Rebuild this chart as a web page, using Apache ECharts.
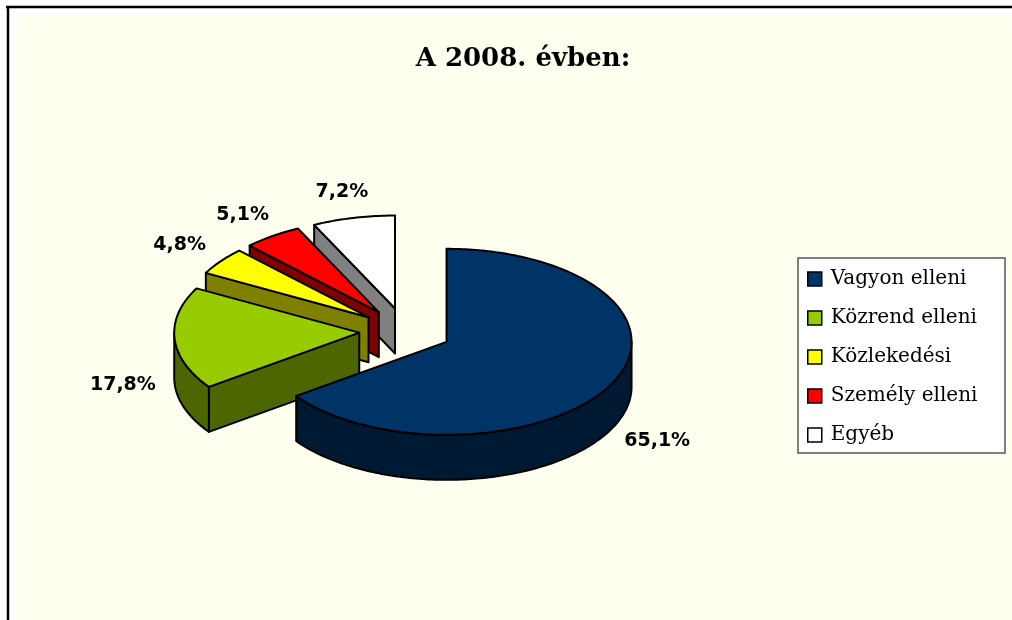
<!DOCTYPE html>
<html><head><meta charset="utf-8">
<script src="https://cdn.jsdelivr.net/npm/echarts@6/dist/echarts.min.js"></script>
<style>html,body{margin:0;padding:0;background:#fff}#c{width:1012px;height:620px}</style>
</head><body><div id="c"></div>
<script>
// ---- data ----
const titleText = 'A 2008. évben:';
const categories = ['Vagyon elleni', 'Közrend elleni', 'Közlekedési', 'Személy elleni', 'Egyéb'];
const values = [65.1, 17.8, 4.8, 5.1, 7.2];
const topColors = ['#003366', '#99CC00', '#FFFF00', '#FF0000', '#FFFFFF'];
const sideColors = ['#001933', '#4C6600', '#808000', '#800000', '#808080'];

// ---- geometry of the pseudo-3D pie ----
const CX = 405.4, CY = 331.2, RX = 185, RY = 93, DEPTH = 45, EXPLODE = 0.25, LABEL_R = 1.28;
const total = values.reduce((s, v) => s + v, 0);
const startAngles = [];
{ let acc = 0; values.forEach(v => { startAngles.push(acc / total * 2 * Math.PI); acc += v; }); }
const mids = values.map((v, i) => startAngles[i] + v / total * Math.PI);
const order = mids.map((m, i) => i).sort((p, q) => (-Math.cos(mids[p])) - (-Math.cos(mids[q])));
const rank = []; order.forEach((idx, r) => { rank[idx] = r; });
const fmt = v => v.toFixed(1).replace('.', ',') + '%';

function renderSlice(params, api) {
  const i = params.seriesIndex;
  const val = api.value(0);
  const a = startAngles[i], b = a + val / total * 2 * Math.PI, m = (a + b) / 2;
  const ox = CX + EXPLODE * RX * Math.sin(m), oy = CY - EXPLODE * RY * Math.cos(m);
  const rim = (t, dz) => [ox + RX * Math.sin(t), oy - RY * Math.cos(t) + (dz || 0)];
  const arc = (t0, t1, dz) => {
    const n = Math.max(2, Math.ceil((t1 - t0) / (Math.PI / 180)));
    const pts = [];
    for (let k = 0; k <= n; k++) pts.push(rim(t0 + (t1 - t0) * k / n, dz));
    return pts;
  };
  const st = c => ({ fill: c, stroke: '#000', lineWidth: 2, lineJoin: 'round' });
  const zb = rank[i] * 10 + 10;
  const children = [];
  if (Math.sin(a) < -1e-6) children.push({ type: 'polygon', z2: zb + 1,
    shape: { points: [[ox, oy], rim(a), rim(a, DEPTH), [ox, oy + DEPTH]] }, style: st(sideColors[i]) });
  if (Math.sin(b) > 1e-6) children.push({ type: 'polygon', z2: zb + 1,
    shape: { points: [[ox, oy], rim(b), rim(b, DEPTH), [ox, oy + DEPTH]] }, style: st(sideColors[i]) });
  const lo = Math.max(a, Math.PI / 2), hi = Math.min(b, 1.5 * Math.PI);
  if (hi > lo) {
    const t = arc(lo, hi, 0), bt = arc(lo, hi, DEPTH).reverse();
    children.push({ type: 'polygon', z2: zb + 2, shape: { points: t.concat(bt) }, style: st(sideColors[i]) });
  }
  children.push({ type: 'polygon', z2: zb + 3, shape: { points: [[ox, oy]].concat(arc(a, b, 0)) }, style: st(topColors[i]) });
  const front = -Math.cos(m) > 0;
  children.push({ type: 'text', z2: 200, style: {
    text: fmt(val),
    x: ox + LABEL_R * RX * Math.sin(m),
    y: oy - LABEL_R * RY * Math.cos(m) + (front ? DEPTH : 0),
    align: 'center', verticalAlign: 'middle',
    font: 'bold 19px "DejaVu Sans"', fill: '#000' } });
  return { type: 'group', children };
}

const chart = echarts.init(document.getElementById('c'), null, { renderer: 'canvas' });
chart.setOption({
  animation: false,
  backgroundColor: '#ffffff',
  title: {
    text: titleText, left: 518, top: 41, textAlign: 'center',
    textStyle: { fontFamily: 'DejaVu Serif', fontWeight: 'bold', fontSize: 26, color: '#000' }
  },
  graphic: [
    { type: 'rect', z: -10, shape: { x: 18, y: 16, width: 1000, height: 610 }, style: { fill: '#fffff0' } },
    { type: 'line', z: -5, shape: { x1: 6, y1: 7, x2: 1012, y2: 7 }, style: { stroke: '#000', lineWidth: 2.5 } },
    { type: 'line', z: -5, shape: { x1: 8, y1: 6, x2: 8, y2: 620 }, style: { stroke: '#000', lineWidth: 2.5 } },
    { type: 'rect', z: 1, shape: { x: 798, y: 258, width: 207, height: 195 }, style: { fill: '#fff', stroke: '#555', lineWidth: 1.5 } }
  ],
  legend: {
    orient: 'vertical', left: 807, top: 269, padding: 0,
    itemWidth: 14, itemHeight: 14, itemGap: 19, icon: 'rect',
    selectedMode: false,
    itemStyle: { borderColor: '#000', borderWidth: 1.5 },
    textStyle: { fontFamily: 'DejaVu Serif', fontSize: 20, color: '#000', lineHeight: 20, padding: [0, 0, 0, 4] },
    data: categories
  },
  series: categories.map((name, i) => ({
    type: 'custom', name, coordinateSystem: 'none', renderItem: renderSlice,
    itemStyle: { color: topColors[i] }, data: [[values[i]]]
  }))
});
</script>
</body></html>
